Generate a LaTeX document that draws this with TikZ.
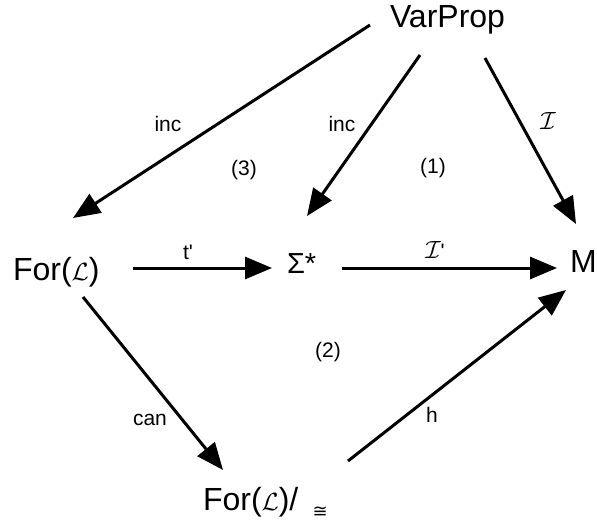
\documentclass[tikz,border=0pt]{standalone}
\usepackage{fontspec}
\setmainfont{Liberation Sans}
\newfontfamily\symfont{DejaVu Sans}
\usetikzlibrary{arrows.meta,calc}
\begin{document}
\begin{tikzpicture}[x=1pt,y=-1pt,
  big/.style={font=\fontsize{32}{36}\selectfont, inner sep=0pt, outer sep=0pt, anchor=base west},
  lbl/.style={font=\fontsize{21}{24}\selectfont, inner sep=0pt},
  mlbl/.style={font=\fontsize{29}{32}\selectfont, inner sep=0pt},
  arr/.style={line width=3pt, -{Triangle[length=27pt,width=22pt]}}]
\useasboundingbox (0,0) rectangle (597,524);
\node[big] (vp) at (390,28) {VarProp};
\node[big] (for) at (13,280) {For({\fontsize{36}{36}\selectfont$\mathcal{L}$})};
\node[big, font=\fontsize{29}{32}\selectfont] (sig) at (287,273) {Σ*};
\node[big] (m) at (570,272) {M};
\node[big] (q) at (203,510) {For({\fontsize{36}{36}\selectfont$\mathcal{L}$})/};
\node[inner sep=0pt, font=\symfont\fontsize{18}{18}\selectfont, anchor=base west] (qc) at ($(q.base east)+(14,7)$) {≅};
% connectors
\draw[arr] ($(vp.base west)+(-20,-3)$) -- ($(for.base west)+(60,-62)$);
\draw[arr] ($(vp.base west)+(30,27)$) -- ($(sig.base west)+(20,-57)$);
\draw[arr] ($(vp.base west)+(95,30)$) -- ($(m.base west)+(6,-48)$);
\draw[arr] ($(for.base west)+(120,-12)$) -- ($(sig.base west)+(-15,-5)$);
\draw[arr] ($(sig.base west)+(55,-5)$) -- ($(m.base west)+(-13,-4)$);
\draw[arr] ($(for.base west)+(70,17)$) -- ($(q.base west)+(20,-40)$);
\draw[arr] ($(q.base west)+(145,-49)$) -- ($(m.base west)+(-4,18)$);
% labels
\node[lbl] (l1) at (168,124) {inc};
\node[lbl] (l2) at (342,124) {inc};
\node[mlbl] (l3) at (548,121) {$\mathcal{I}$};
\node[lbl] (l4) at (244,170) {(3)};
\node[lbl] (l5) at (433,168) {(1)};
\node[lbl] (l6) at (188,252) {t\textquotesingle};
\node[mlbl] (l7) at (435,250) {$\mathcal{I}$\fontsize{21}{24}\selectfont\textquotesingle};
\node[lbl] (l8) at (328,352) {(2)};
\node[lbl] (l9) at (150,420) {can};
\node[lbl] (l10) at (432,415) {h};
\end{tikzpicture}
\end{document}
